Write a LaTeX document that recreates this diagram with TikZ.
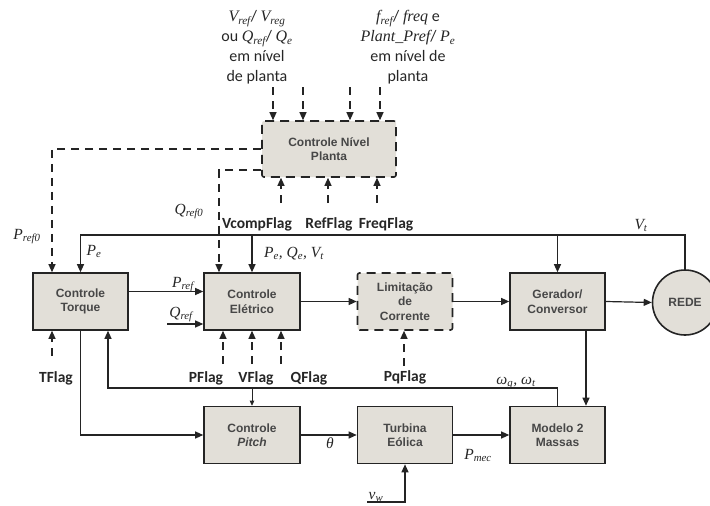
\documentclass[tikz,border=0pt]{standalone}
\usepackage{fontspec}
\setmainfont{Liberation Serif}
\newfontfamily\boxfont{Liberation Sans}
\newfontfamily\flagfont{Carlito}
\usetikzlibrary{arrows.meta}
\definecolor{boxfill}{RGB}{226,223,216}
\definecolor{ink}{RGB}{36,36,36}
\newcommand{\sig}[2]{{\rmfamily\itshape #1\textsubscript{#2}}}

\begin{document}
\begin{tikzpicture}[x=1pt, y=-1pt,
    block/.style={rectangle, draw=ink, line width=1.6pt, fill=boxfill, minimum width=95pt, minimum height=57pt,
                  inner sep=1pt, align=center, text=black!72, font=\boxfont\bfseries\fontsize{12}{14.5}\selectfont},
    planblock/.style={block, rounded corners=2pt, dash pattern=on 9pt off 6pt},
    network/.style={circle, draw=ink, line width=1.6pt, fill=boxfill, minimum size=65pt, inner sep=0pt,
                    text=black!72, font=\boxfont\bfseries\fontsize{12}{14}\selectfont},
    feeds/.style={draw=ink, line width=1.2pt, -{Triangle[length=8pt, width=7pt]}},
    feedsdashed/.style={feeds, dash pattern=on 8pt off 6pt},
    flaglabel/.style={anchor=base, inner sep=0pt, text=black!85, font=\flagfont\bfseries\fontsize{15.5}{18}\selectfont},
    siglabel/.style={anchor=base, inner sep=0pt, text=black!85, font=\rmfamily\itshape\fontsize{15.5}{17}\selectfont},
    notetext/.style={anchor=north, align=center, inner sep=0pt, text=black!85, font=\flagfont\fontsize{16}{20}\selectfont}]
  \clip (0,0) rectangle (710,506);

  % blocks, at their pixel positions
  \node[planblock, minimum width=134pt, minimum height=56pt] (planta) at (329,149) {Controle Nível\\Planta};
  \node[block]                     (torque)   at (80.5,301.5)  {Controle\\Torque};
  \node[block, minimum width=96pt] (eletrico) at (252,301.5)   {Controle\\Elétrico};
  \node[planblock]                 (limite)   at (405,301.5)   {Limitação\\de\\Corrente};
  \node[block]                     (gerador)  at (557.5,301.5) {Gerador/\\Conversor};
  \node[network]                   (rede)     at (685,302.5)   {REDE};
  \node[block, minimum width=96pt] (pitch)    at (252,435)     {Controle\\\textit{Pitch}};
  \node[block]                     (turbina)  at (405,435)     {Turbina\\Eólica};
  \node[block]                     (massas)   at (557.5,435)   {Modelo 2\\Massas};

  % bends and free ends of the signal lines
  \coordinate (vt)   at (80.5,235);
  \coordinate (wg)   at (108,388);
  \coordinate (vw)   at (367,502);
  \coordinate (qref) at (167,324);

  % main chain
  \draw[feeds] ([yshift=10pt]torque.east) -- ([yshift=10pt]eletrico.west);
  \draw[feeds] (qref) -- (qref -| eletrico.west);
  \draw[feeds] (eletrico.east) -- (limite.west);
  \draw[feeds] (limite.east) -- (gerador.west);
  \draw[feeds] (gerador.east) -- (rede.west);
  \draw[feeds] ([xshift=28.5pt]gerador.south) -- ([xshift=28.5pt]massas.north);
  \draw[feeds] (torque.south) |- (pitch.west);
  \draw[feeds] (pitch.east) -- (turbina.west);
  \draw[feeds] (turbina.east) -- (massas.west);
  \draw[feeds] (vw) -| (turbina.south);

  % terminal voltage and powers, back from the grid
  \draw[feeds] (rede.north) |- (vt) -- (torque.north);
  \draw[feeds] (gerador.north |- vt) -- (gerador.north);
  \draw[feeds] (eletrico.north |- vt) -- (eletrico.north);
  % speeds, back from the two mass model
  \draw[feeds] (massas.north) |- (wg) -- (wg |- torque.south);
  \draw[feeds, line width=0.6pt, -{Triangle[length=5pt, width=4.5pt]}] (pitch.north |- wg) -- (pitch.north);

  % plant level references
  \draw[feedsdashed] (planta.west) -| ([xshift=-28.5pt]torque.north);
  \draw[feedsdashed] ([yshift=-21pt]planta.west) -| ([xshift=-33pt]eletrico.north);
  \foreach \dx [count=\i] in {-56,-26,21,51} {
    \coordinate (in\i) at ([xshift=\dx pt, yshift=33pt]planta.north);
    \draw[feedsdashed] (in\i) -- (in\i |- planta.north);}

  % flags
  \foreach \x/\n in {281/vcomp, 328/ref, 377/freq} {
    \coordinate (f\n) at (\x,203);
    \draw[feedsdashed] (f\n) -- (f\n |- planta.south);}
  \foreach \x/\n in {223/p, 252/v, 281/q} {
    \coordinate (f\n) at (\x,364);
    \draw[feedsdashed] (f\n) -- (f\n |- eletrico.south);}
  \coordinate (ft)  at (52,356);
  \coordinate (fpq) at (404,366);
  \draw[feedsdashed] (ft) -- (ft |- torque.south);
  \draw[feedsdashed] (fpq) -- (fpq |- limite.south);

  \node[flaglabel] (lvcomp) at (257,228) {VcompFlag};
  \node[flaglabel] (lref)   at (329,228) {RefFlag};
  \node[flaglabel] (lfreq)  at (386,228) {FreqFlag};
  \node[flaglabel] (lt)     at (56,382)  {TFlag};
  \node[flaglabel] (lp)     at (206,382) {PFlag};
  \node[flaglabel] (lv)     at (256,382) {VFlag};
  \node[flaglabel] (lq)     at (309,382) {QFlag};
  \node[flaglabel] (lpq)    at (405,381) {PqFlag};

  % signal names
  \node[siglabel] (lpref0) at (27,239)  {\sig{P}{ref0}};
  \node[siglabel] (lqref0) at (189,214) {\sig{Q}{ref0}};
  \node[siglabel] (lpe)    at (94,255)  {\sig{P}{e}};
  \node[siglabel] (lpqv)   at (294,257) {\sig{P}{e}, \sig{Q}{e}, \sig{V}{t}};
  \node[siglabel] (lpref)  at (183,287) {\sig{P}{ref}};
  \node[siglabel] (lqref)  at (181,317) {\sig{Q}{ref}};
  \node[siglabel] (ltheta) at (330,448) {θ};
  \node[siglabel] (lw)     at (516,384) {\sig{ω}{g}, \sig{ω}{t}};
  \node[siglabel] (lvt)    at (641,229) {\sig{V}{t}};
  \node[siglabel] (lpmec)  at (478,459) {\sig{P}{mec}};
  \node[siglabel] (lvw)    at (376,499) {\sig{v}{w}};

  % plant level inputs
  \node[notetext] (nvolt) at (257,10.5) {\sig{V}{ref}/ \sig{V}{reg}\\ou \sig{Q}{ref}/ \sig{Q}{e}\\em nível\\de planta};
  \node[notetext] (nfreq) at (408,10)   {\sig{f}{ref}/ {\rmfamily\itshape freq} e\\{\rmfamily\itshape Plant\_Pref}/ \sig{P}{e}\\em nível de\\planta};
\end{tikzpicture}
\end{document}
